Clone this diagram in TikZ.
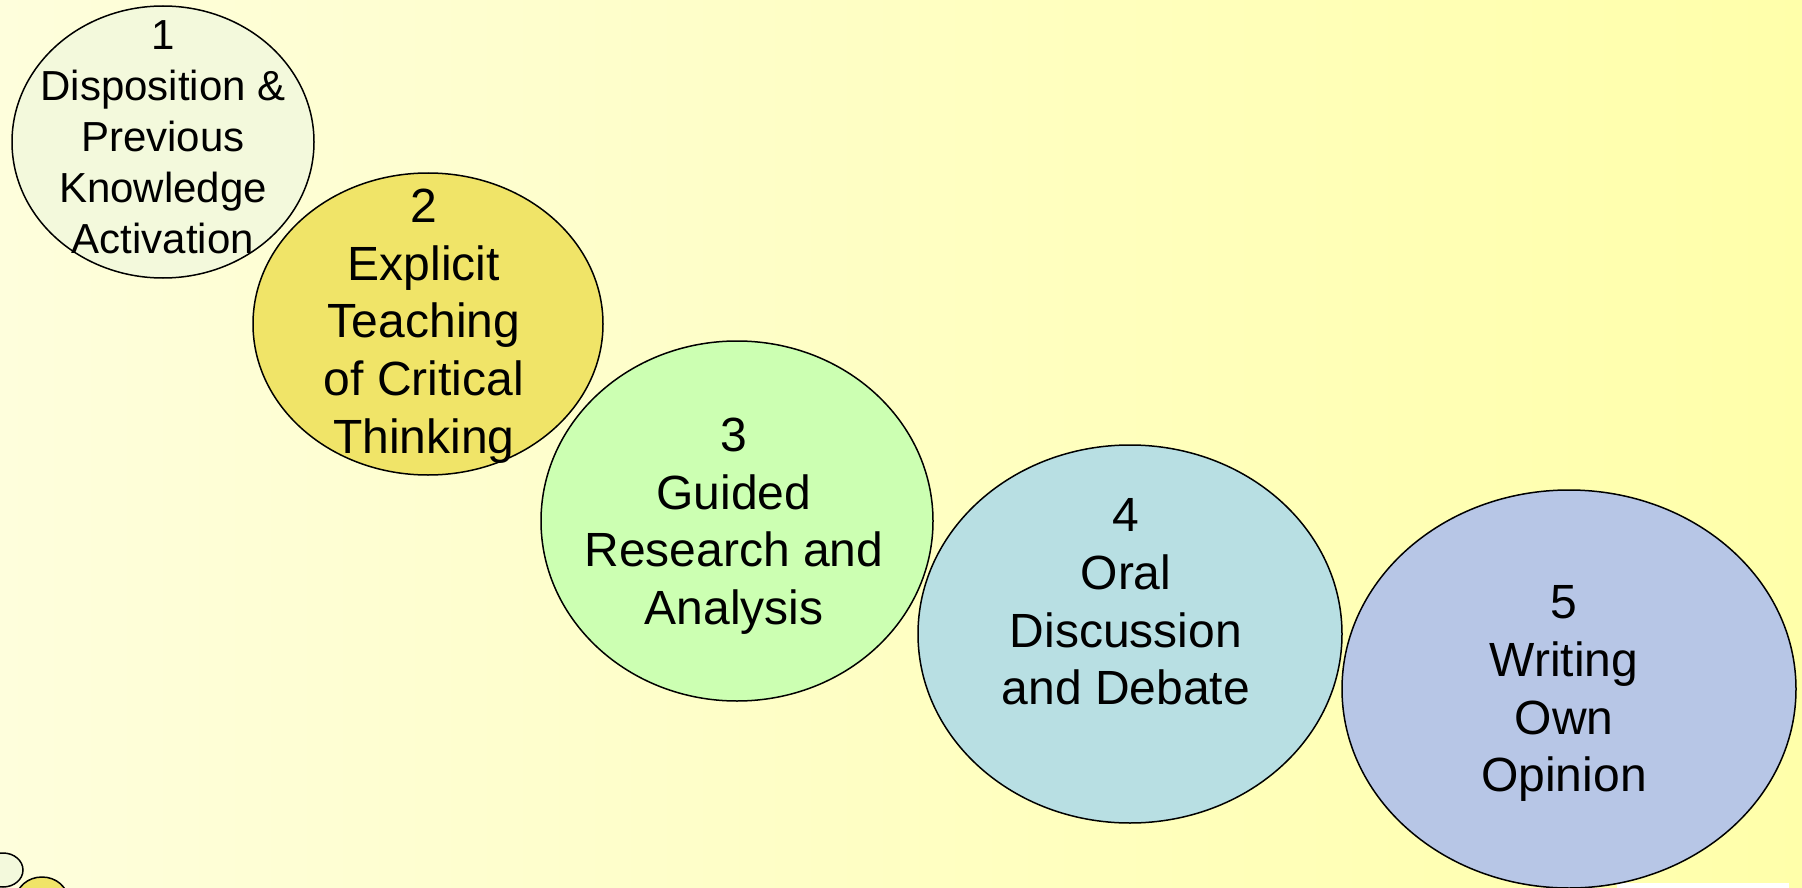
\documentclass[tikz,border=0pt]{standalone}
\usepackage{fontspec}
\setmainfont{Liberation Sans}
\usetikzlibrary{shapes.geometric}
\definecolor{bgL}{HTML}{FEFEDC}
\definecolor{bgR}{HTML}{FFFFAA}
\definecolor{cOne}{HTML}{F3F9DC}
\definecolor{cTwo}{HTML}{F0E468}
\definecolor{cThree}{HTML}{CCFFB2}
\definecolor{cFour}{HTML}{B8DFE3}
\definecolor{cFive}{HTML}{B7C6E6}
\begin{document}
\begin{tikzpicture}[x=1pt,y=-1pt,
  bubble/.style={ellipse, draw=black, line width=1.5pt, inner sep=0pt},
  smalltext/.style={anchor=north, inner sep=0pt, align=center, font=\fontsize{42}{51}\selectfont},
  bigtext/.style={anchor=north, inner sep=0pt, align=center, font=\fontsize{48}{57.7}\selectfont}]
\useasboundingbox (0,0) rectangle (1802,888);
\shade[left color=bgL, right color=bgR] (0,0) rectangle (1802,888);
\fill[white] (1617,883) rectangle (1789,888);
% decorative small bubbles
\node[bubble, fill=cOne, minimum width=40pt, minimum height=34pt] (s1) at (3,870) {};
\node[bubble, fill=cTwo, minimum width=52pt, minimum height=46pt] (s2) at (42,900) {};
% main bubbles
\node[bubble, fill=cOne, minimum width=302pt, minimum height=272pt] (e1) at (163,142) {};
\node[bubble, fill=cTwo, minimum width=350pt, minimum height=302pt] (e2) at (428,324) {};
\node[bubble, fill=cThree, minimum width=392pt, minimum height=360pt] (e3) at (737,521) {};
\node[bubble, fill=cFour, minimum width=424pt, minimum height=378pt] (e4) at (1130,634) {};
\node[bubble, fill=cFive, minimum width=454pt, minimum height=398pt] (e5) at (1569,689) {};
% texts
\node[smalltext] (t1) at (163,20) {1\\Disposition \&\\Previous\\Knowledge\\Activation};
\node[bigtext] (t2) at (424,188.6) {2\\Explicit\\Teaching\\of Critical\\Thinking};
\node[bigtext] (t3) at (734,417.6) {3\\Guided\\Research and\\Analysis};
\node[bigtext] (t4) at (1126,498.6) {4\\Oral\\Discussion\\and Debate};
\node[bigtext] (t5) at (1564,585.6) {5\\Writing\\Own\\Opinion};
\end{tikzpicture}
\end{document}
